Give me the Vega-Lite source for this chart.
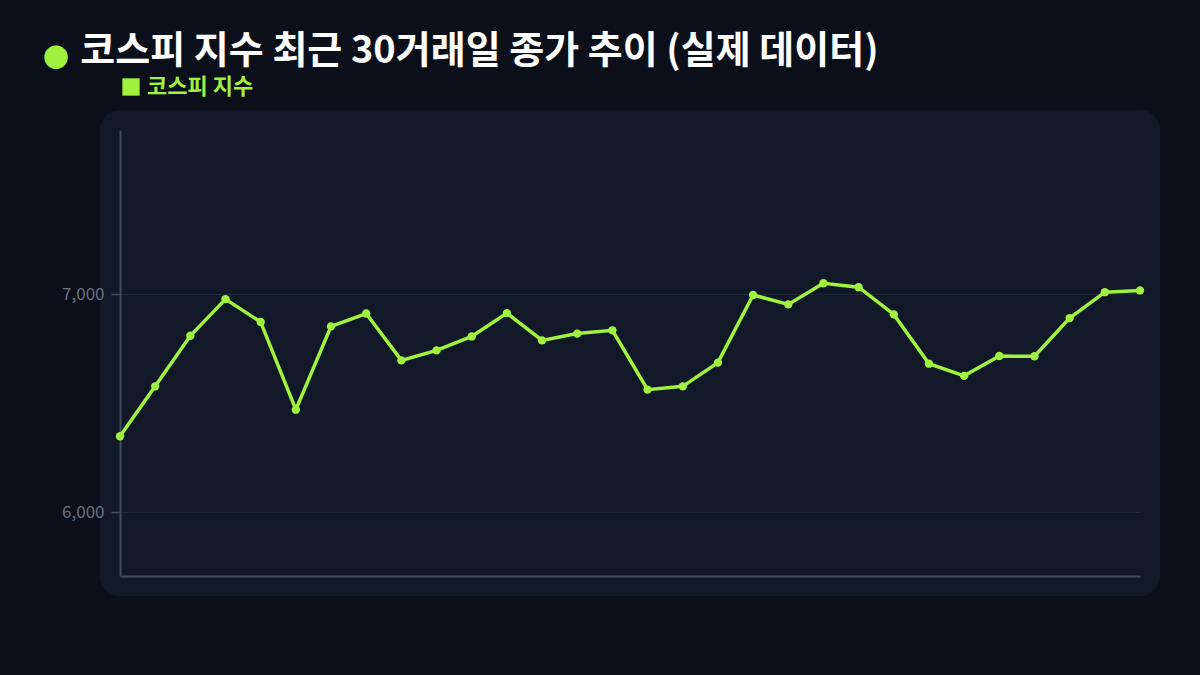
{
  "$schema": "https://vega.github.io/schema/vega-lite/v6.json",
  "description": "KOSPI index closing price over the last 30 trading days.",
  "width": 1020,
  "height": 446,
  "autosize": {"type": "none"},
  "padding": {"left": 120, "top": 130, "right": 60, "bottom": 99},
  "background": "#0b0f1a",
  "title": {
    "text": "●",
    "subtitle": "\u3164\u200A코스피 지수 최근 30거래일 종가 추이 (실제 데이터)",
    "anchor": "start",
    "frame": "group",
    "orient": "top",
    "dx": -77,
    "offset": -9,
    "font": "Noto Sans CJK KR",
    "fontSize": 26,
    "color": "#a0f23f",
    "subtitleFont": "Noto Sans CJK KR",
    "subtitleFontSize": 38,
    "subtitleFontWeight": "bold",
    "subtitleColor": "#ffffff",
    "subtitlePadding": -39
  },
  "data": {
    "values": [
      {"day": 1, "close": 6349, "series": "코스피 지수"},
      {"day": 2, "close": 6578, "series": "코스피 지수"},
      {"day": 3, "close": 6810, "series": "코스피 지수"},
      {"day": 4, "close": 6978, "series": "코스피 지수"},
      {"day": 5, "close": 6873, "series": "코스피 지수"},
      {"day": 6, "close": 6471, "series": "코스피 지수"},
      {"day": 7, "close": 6853, "series": "코스피 지수"},
      {"day": 8, "close": 6912, "series": "코스피 지수"},
      {"day": 9, "close": 6697, "series": "코스피 지수"},
      {"day": 10, "close": 6743, "series": "코스피 지수"},
      {"day": 11, "close": 6807, "series": "코스피 지수"},
      {"day": 12, "close": 6914, "series": "코스피 지수"},
      {"day": 13, "close": 6789, "series": "코스피 지수"},
      {"day": 14, "close": 6820, "series": "코스피 지수"},
      {"day": 15, "close": 6835, "series": "코스피 지수"},
      {"day": 16, "close": 6563, "series": "코스피 지수"},
      {"day": 17, "close": 6578, "series": "코스피 지수"},
      {"day": 18, "close": 6687, "series": "코스피 지수"},
      {"day": 19, "close": 6997, "series": "코스피 지수"},
      {"day": 20, "close": 6954, "series": "코스피 지수"},
      {"day": 21, "close": 7051, "series": "코스피 지수"},
      {"day": 22, "close": 7033, "series": "코스피 지수"},
      {"day": 23, "close": 6908, "series": "코스피 지수"},
      {"day": 24, "close": 6682, "series": "코스피 지수"},
      {"day": 25, "close": 6626, "series": "코스피 지수"},
      {"day": 26, "close": 6717, "series": "코스피 지수"},
      {"day": 27, "close": 6716, "series": "코스피 지수"},
      {"day": 28, "close": 6891, "series": "코스피 지수"},
      {"day": 29, "close": 7010, "series": "코스피 지수"},
      {"day": 30, "close": 7018, "series": "코스피 지수"}
    ]
  },
  "encoding": {
    "x": {
      "field": "day",
      "type": "quantitative",
      "scale": {"domain": [1, 30], "nice": false, "zero": false},
      "axis": {
        "title": null,
        "labels": false,
        "ticks": false,
        "grid": false,
        "domainColor": "#414c5c",
        "domainWidth": 2
      }
    },
    "y": {
      "field": "close",
      "type": "quantitative",
      "scale": {"domain": [5708, 7754], "nice": false, "zero": false},
      "axis": {
        "title": null,
        "values": [6000, 7000],
        "format": ",.0f",
        "grid": true,
        "gridColor": "#1f2937",
        "gridWidth": 1,
        "domainColor": "#414c5c",
        "domainWidth": 2,
        "tickColor": "#414c5c",
        "tickSize": 9,
        "tickWidth": 1.5,
        "labelPadding": 7,
        "labelFont": "Noto Sans CJK KR",
        "labelFontSize": 17,
        "labelColor": "#6b7280"
      }
    },
    "color": {
      "field": "series",
      "type": "nominal",
      "scale": {"range": ["#a0f23f"]},
      "legend": {
        "orient": "none",
        "legendX": 0,
        "legendY": -54,
        "title": null,
        "symbolType": "square",
        "symbolSize": 300,
        "labelFont": "Noto Sans CJK KR",
        "labelFontSize": 22,
        "labelFontWeight": "bold",
        "labelColor": "#a0f23f",
        "labelOffset": 5,
        "encode": {
          "symbols": {
            "update": {
              "fill": {"value": "#a0f23f"},
              "stroke": {"value": "#a0f23f"},
              "strokeWidth": {"value": 0},
              "opacity": {"value": 1}
            }
          }
        }
      }
    }
  },
  "layer": [
    {"mark": {"type": "line", "strokeWidth": 3.5}},
    {"mark": {"type": "point", "filled": true, "size": 70, "opacity": 1}}
  ],
  "config": {
    "view": {
      "fill": "#111827",
      "stroke": "#111827",
      "strokeWidth": 40,
      "strokeJoin": "round"
    }
  }
}
